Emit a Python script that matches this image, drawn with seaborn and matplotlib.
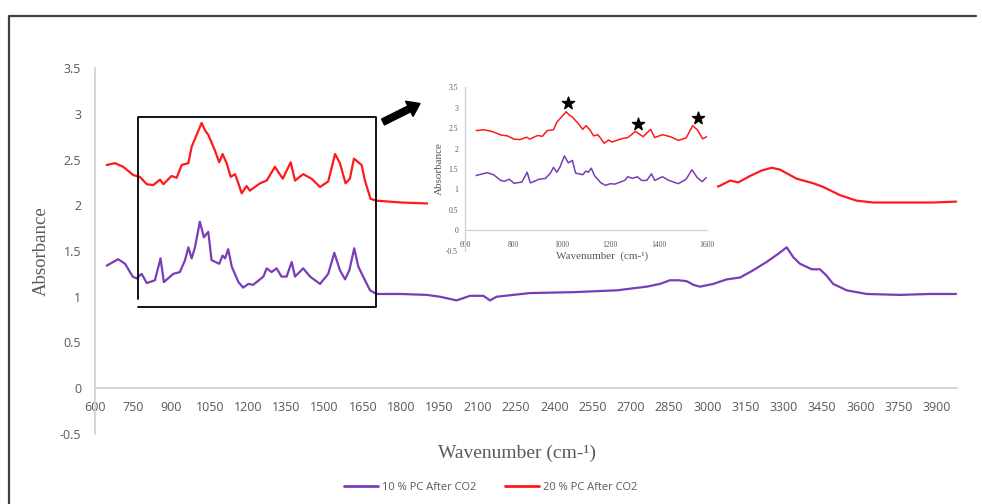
import matplotlib
matplotlib.use("Agg")
import matplotlib.pyplot as plt
import matplotlib.patches as mpatches
from matplotlib.lines import Line2D
import numpy as np
import seaborn as sns

# --- data ---
purple_wn = [646, 691, 718, 748, 763, 783, 803, 835, 857, 870, 907, 933, 953, 966, 979,
             992, 1011, 1027, 1044, 1057, 1087, 1100, 1110, 1122, 1136, 1162, 1181, 1201, 1220, 1260,
             1273, 1292, 1312, 1331, 1351, 1371, 1384, 1416, 1443, 1482, 1514, 1538, 1560, 1580, 1597,
             1616, 1632, 1651, 1678, 1704, 1800, 1900, 1952, 2017, 2070, 2122, 2148, 2174, 2305, 2475,
             2645, 2762, 2814, 2853, 2886, 2919, 2945, 2971, 3023, 3076, 3128, 3180, 3232, 3278, 3311,
             3337, 3363, 3409, 3441, 3467, 3493, 3546, 3624, 3755, 3870, 3975]
purple_abs = [1.34, 1.41, 1.36, 1.22, 1.20, 1.25, 1.15, 1.18, 1.42, 1.16, 1.25, 1.27, 1.40, 1.54, 1.42,
              1.54, 1.82, 1.65, 1.71, 1.40, 1.36, 1.45, 1.42, 1.52, 1.33, 1.16, 1.10, 1.14, 1.13, 1.22,
              1.31, 1.27, 1.31, 1.22, 1.22, 1.38, 1.22, 1.31, 1.22, 1.14, 1.25, 1.48, 1.29, 1.19, 1.29,
              1.53, 1.33, 1.22, 1.07, 1.03, 1.03, 1.02, 1.00, 0.96, 1.01, 1.01, 0.96, 1.00, 1.04, 1.05,
              1.07, 1.11, 1.14, 1.18, 1.18, 1.17, 1.13, 1.11, 1.14, 1.19, 1.21, 1.29, 1.38, 1.47, 1.54,
              1.43, 1.36, 1.30, 1.30, 1.23, 1.14, 1.07, 1.03, 1.02, 1.03, 1.03]

red_wn = [646, 678, 711, 750, 776, 803, 828, 855, 868, 900, 920, 940, 966, 979, 1018,
          1031, 1044, 1070, 1087, 1100, 1116, 1132, 1149, 1162, 1175, 1194, 1207, 1247, 1273, 1305,
          1336, 1367, 1384, 1416, 1449, 1482, 1514, 1541, 1560, 1582, 1599, 1615, 1645, 1658, 1680,
          1704, 1800, 1900, 2000, 2200, 2400, 2600, 2800, 2950, 3047, 3089, 3121, 3167, 3213, 3252,
          3284, 3350, 3415, 3454, 3520, 3585, 3650, 3755, 3885, 3975]
red_abs = [2.44, 2.46, 2.42, 2.33, 2.31, 2.23, 2.22, 2.28, 2.23, 2.32, 2.30, 2.44, 2.46, 2.64, 2.90,
           2.82, 2.77, 2.60, 2.47, 2.56, 2.46, 2.31, 2.34, 2.24, 2.13, 2.21, 2.16, 2.24, 2.27, 2.42,
           2.29, 2.47, 2.27, 2.34, 2.29, 2.20, 2.26, 2.56, 2.46, 2.24, 2.29, 2.51, 2.44, 2.27, 2.07,
           2.05, 2.03, 2.02, 2.01, 2.02, 2.04, 2.06, 2.10, 2.15, 2.21, 2.27, 2.25, 2.32, 2.38, 2.41,
           2.39, 2.29, 2.24, 2.20, 2.11, 2.05, 2.03, 2.03, 2.03, 2.04]

series_labels = ["10 % PC After CO2", "20 % PC After CO2"]

# peaks marked with stars in the inset
star_wn = [1026, 1315, 1563]
star_abs = [3.12, 2.60, 2.74]

main_xticks = list(range(600, 3901, 150))
yticks = [-0.5, 0, 0.5, 1, 1.5, 2, 2.5, 3, 3.5]
inset_xticks = [600, 800, 1000, 1200, 1400, 1600]

PURPLE = "#7a3db8"
RED = "#ff1a1a"
GRAY = "#595959"
AXIS_GRAY = "#d0d0d0"

sns.set_style("white")
plt.rcParams["font.family"] = ["Open Sans", "DejaVu Sans"]

fig = plt.figure(figsize=(9.82, 5.04), dpi=100)
ax = fig.add_axes([0.0967, 0.139, 0.8778, 0.726])

sns.lineplot(x=purple_wn, y=purple_abs, ax=ax, color=PURPLE, lw=1.6, sort=False, estimator=None)
sns.lineplot(x=red_wn, y=red_abs, ax=ax, color=RED, lw=1.6, sort=False, estimator=None)

ax.set_xlim(600, 3978)
ax.set_ylim(-0.5, 3.5)
ax.set_xticks(main_xticks)
ax.set_yticks(yticks)
ax.set_yticklabels(["-0.5", "0", "0.5", "1", "1.5", "2", "2.5", "3", "3.5"])
for s in ["top", "right"]:
    ax.spines[s].set_visible(False)
ax.spines["bottom"].set_position(("data", 0))
ax.spines["bottom"].set_color(AXIS_GRAY)
ax.spines["left"].set_color(AXIS_GRAY)
ax.spines["bottom"].set_linewidth(1.2)
ax.spines["left"].set_linewidth(1.2)
ax.tick_params(axis="x", length=0, pad=9, labelsize=9, labelcolor=GRAY)
ax.tick_params(axis="y", length=0, pad=10, labelsize=9, labelcolor=GRAY)

ax.set_xlabel("Wavenumber (cm-¹)", family="Liberation Serif", fontsize=14, color=GRAY)
ax.xaxis.set_label_coords(0.49, -0.03)
ax.set_ylabel("Absorbance", family="Liberation Serif", fontsize=13.5, color=GRAY)
ax.yaxis.set_label_coords(-0.052, 0.5)

# zoom box around the fingerprint region
box_x0, box_x1 = 770, 1700
box_y0, box_y1, box_left_end = 0.889, 2.965, 0.98
ax.plot([box_x0, box_x0, box_x1, box_x1, box_x0],
        [box_left_end, box_y1, box_y1, box_y0, box_y0], color="black", lw=1.3)

# white background behind the inset
ax.add_patch(mpatches.Rectangle((428 / 982, 1 - 266 / 504), 289 / 982, 188 / 504,
                                transform=fig.transFigure, facecolor="white",
                                edgecolor="none", zorder=5, clip_on=False))

# arrow pointing to the inset
fig.patches.append(mpatches.FancyArrow(3.83, 3.82, 0.37, 0.185, width=0.065, head_width=0.17,
                                       head_length=0.12, length_includes_head=True,
                                       color="black", transform=fig.dpi_scale_trans))

# inset
axin = fig.add_axes([0.4735, 0.5026, 0.2464, 0.3242])
axin.set_facecolor("white")
mask_p = np.array(purple_wn) <= 1600
mask_r = np.array(red_wn) <= 1600
sns.lineplot(x=np.array(purple_wn)[mask_p], y=np.array(purple_abs)[mask_p], ax=axin,
             color=PURPLE, lw=1.1, sort=False, estimator=None)
sns.lineplot(x=np.array(red_wn)[mask_r], y=np.array(red_abs)[mask_r], ax=axin,
             color=RED, lw=1.1, sort=False, estimator=None)
axin.scatter(star_wn, star_abs, marker="*", s=85, color="black", zorder=6)
axin.set_xlim(600, 1600)
axin.set_ylim(-0.5, 3.5)
axin.set_xticks(inset_xticks)
axin.set_yticks(yticks)
axin.set_yticklabels(["-0.5", "0", "0.5", "1", "1.5", "2", "2.5", "3", "3.5"])
for s in ["top", "right"]:
    axin.spines[s].set_visible(False)
axin.spines["bottom"].set_position(("data", 0))
axin.spines["bottom"].set_color(AXIS_GRAY)
axin.spines["left"].set_color(AXIS_GRAY)
axin.spines["bottom"].set_linewidth(0.9)
axin.spines["left"].set_linewidth(0.9)
for lab in axin.get_xticklabels() + axin.get_yticklabels():
    lab.set_family("Liberation Serif")
axin.tick_params(axis="x", length=0, pad=8, labelsize=5.5, labelcolor=GRAY)
axin.tick_params(axis="y", length=0, pad=5, labelsize=5.5, labelcolor=GRAY)
axin.set_xlabel("Wavenumber  (cm-¹)", family="Liberation Serif", fontsize=8, color=GRAY)
axin.xaxis.set_label_coords(0.566, -0.005)
axin.set_ylabel("Absorbance", family="Liberation Serif", fontsize=8, color=GRAY)
axin.yaxis.set_label_coords(-0.087, 0.5)

# legend
handles = [Line2D([], [], color=PURPLE, lw=2), Line2D([], [], color=RED, lw=2)]
leg = fig.legend(handles, series_labels, loc="center", bbox_to_anchor=(0.5, 1 - 487 / 504),
                 ncol=2, frameon=False, fontsize=8, handlelength=3, handletextpad=0.4,
                 columnspacing=2.6)
for t in leg.get_texts():
    t.set_color(GRAY)

# outer frame of the original figure (left and top edges visible)
fig.add_artist(Line2D([9 / 982, 9 / 982, 976 / 982], [0, 1 - 16 / 504, 1 - 16 / 504],
                      color="#404040", lw=1.6, transform=fig.transFigure))

fig.savefig("out.png", dpi=100)
